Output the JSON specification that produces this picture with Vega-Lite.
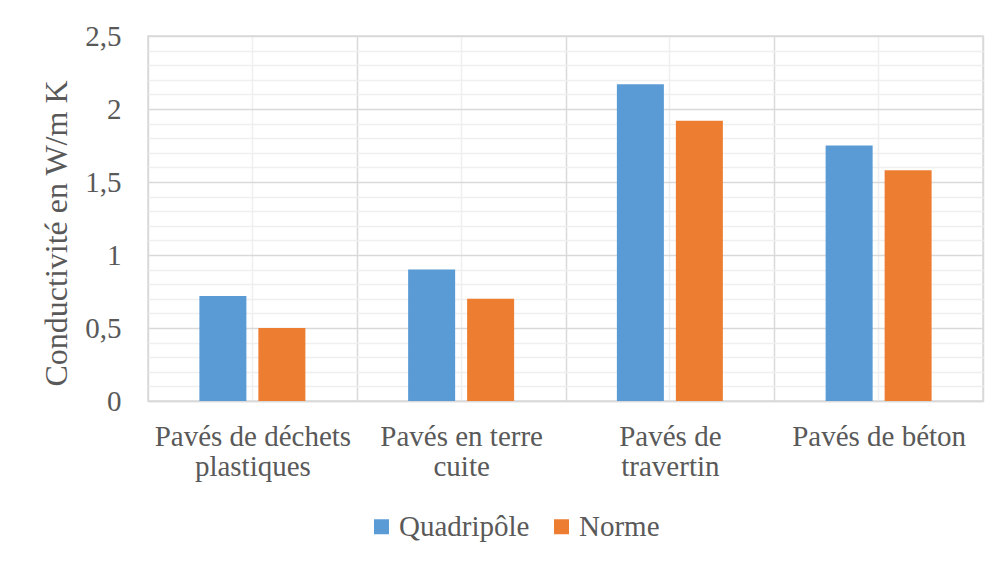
{
  "$schema": "https://vega.github.io/schema/vega-lite/v6.json",
  "autosize": {"type": "none"},
  "width": 835,
  "height": 365,
  "padding": {"left": 148, "top": 36, "right": 22, "bottom": 161},
  "background": "white",
  "config": {
    "view": {"stroke": "#d9d9d9", "strokeWidth": 1.5},
    "font": "Liberation Serif"
  },
  "data": {
    "values": [
      {"categorie": "Pavés de déchets plastiques", "serie": "Quadripôle", "valeur": 0.72},
      {"categorie": "Pavés de déchets plastiques", "serie": "Norme", "valeur": 0.5},
      {"categorie": "Pavés en terre cuite", "serie": "Quadripôle", "valeur": 0.9},
      {"categorie": "Pavés en terre cuite", "serie": "Norme", "valeur": 0.7},
      {"categorie": "Pavés de travertin", "serie": "Quadripôle", "valeur": 2.17},
      {"categorie": "Pavés de travertin", "serie": "Norme", "valeur": 1.92},
      {"categorie": "Pavés de béton", "serie": "Quadripôle", "valeur": 1.75},
      {"categorie": "Pavés de béton", "serie": "Norme", "valeur": 1.58}
    ]
  },
  "layer": [
    {
      "mark": {"type": "rule", "opacity": 0},
      "encoding": {
        "x": {
          "field": "categorie",
          "type": "nominal",
          "sort": null,
          "scale": {"paddingInner": 0, "paddingOuter": 0},
          "axis": {
            "orient": "bottom",
            "labels": false,
            "ticks": false,
            "domain": false,
            "grid": true,
            "gridColor": "#efefef",
            "gridWidth": 1.5,
            "title": null
          }
        }
      }
    },
    {
      "mark": {"type": "bar"},
      "encoding": {
        "x": {
          "field": "categorie",
          "type": "nominal",
          "sort": null,
          "scale": {"paddingInner": 0, "paddingOuter": 0},
          "axis": {
            "orient": "bottom",
            "title": null,
            "labelAngle": 0,
            "tickBand": "extent",
            "ticks": false,
            "grid": true,
            "gridColor": "#d9d9d9",
            "gridWidth": 1.5,
            "domainColor": "#d9d9d9",
            "domainWidth": 1.5,
            "labelFont": "Liberation Serif",
            "labelFontSize": 29,
            "labelColor": "#595959",
            "labelPadding": 21,
            "labelLineHeight": 30,
            "labelLimit": 0,
            "labelExpr": "datum.value == 'Pavés de déchets plastiques' ? ['Pavés de déchets', 'plastiques'] : datum.value == 'Pavés en terre cuite' ? ['Pavés en terre', 'cuite'] : datum.value == 'Pavés de travertin' ? ['Pavés de', 'travertin'] : datum.value"
          }
        },
        "xOffset": {
          "field": "serie",
          "type": "nominal",
          "sort": ["Quadripôle", "Norme"],
          "scale": {"paddingInner": 0.203, "paddingOuter": 0.871}
        },
        "y": {
          "field": "valeur",
          "type": "quantitative",
          "scale": {"domain": [0, 2.5], "nice": false},
          "axis": {
            "title": "Conductivité en W/m K",
            "titleFont": "Liberation Serif",
            "titleFontSize": 32,
            "titleFontWeight": "normal",
            "titleColor": "#595959",
            "titlePadding": 11,
            "titleY": 197,
            "values": [0, 0.1, 0.2, 0.3, 0.4, 0.5, 0.6, 0.7, 0.8, 0.9, 1, 1.1, 1.2, 1.3, 1.4, 1.5, 1.6, 1.7, 1.8, 1.9, 2, 2.1, 2.2, 2.3, 2.4, 2.5],
            "domain": false,
            "ticks": false,
            "grid": true,
            "gridWidth": 1.5,
            "gridColor": {"condition": {"test": "abs(datum.value*2 - round(datum.value*2)) < 0.001", "value": "#d9d9d9"}, "value": "#efefef"},
            "labelFont": "Liberation Serif",
            "labelFontSize": 29,
            "labelColor": "#595959",
            "labelPadding": 27,
            "labelExpr": "abs(datum.value*2 - round(datum.value*2)) < 0.001 ? replace(format(datum.value, '~g'), '.', ',') : ''"
          }
        },
        "color": {
          "field": "serie",
          "type": "nominal",
          "sort": ["Quadripôle", "Norme"],
          "scale": {"domain": ["Quadripôle", "Norme"], "range": ["#5b9bd5", "#ed7d31"]},
          "legend": {
            "title": null,
            "orient": "none",
            "direction": "horizontal",
            "legendX": 219,
            "legendY": 476,
            "symbolType": "square",
            "symbolSize": 225,
            "symbolStrokeWidth": 0,
            "labelFont": "Liberation Serif",
            "labelFontSize": 29,
            "labelColor": "#595959",
            "labelOffset": 3,
            "labelLimit": 0,
            "columnPadding": 17
          }
        }
      }
    }
  ],
  "resolve": {"axis": {"x": "independent"}}
}
